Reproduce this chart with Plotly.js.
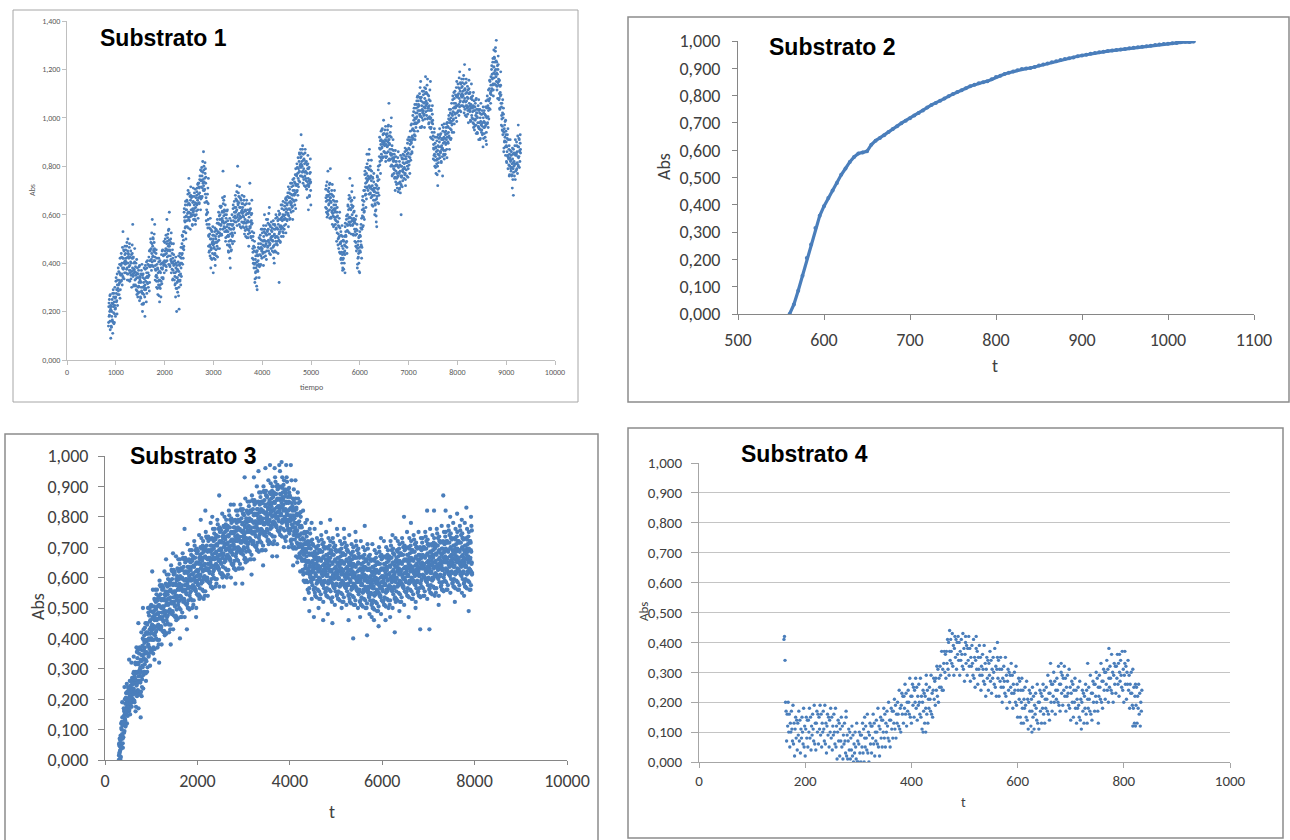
<!DOCTYPE html>
<html><head><meta charset="utf-8">
<script src="https://cdn.plot.ly/plotly-3.0.1.min.js"></script>
<style>html,body{margin:0;padding:0;background:#fff}#chart{width:1290px;height:840px}</style>
</head><body><div id="chart"></div>
<script>
// ---------- Substrato 1 (tiempo, Abs) : readings per 50-unit window ----------
const s1_t = [850,900,950,1000,1050,1100,1150,1200,1250,1300,1350,1400,1450,1500,1550,1600,1650,1700,1750,1800,1850,1900,1950,2000,2050,2100,2150,2200,2250,2300,2350,2400,2450,2500,2550,2600,2650,2700,2750,2800,2850,2900,2950,3000,3050,3100,3150,3200,3250,3300,3350,3400,3450,3500,3550,3600,3650,3700,3750,3800,3850,3900,3950,4000,4050,4100,4150,4200,4250,4300,4350,4400,4450,4500,4550,4600,4650,4700,4750,4800,4850,4900,4950,
5300,5350,5400,5450,5500,5550,5600,5650,5700,5750,5800,5850,5900,5950,6000,6050,6100,6150,6200,6250,6300,6350,6400,6450,6500,6550,6600,6650,6700,6750,6800,6850,6900,6950,7000,7050,7100,7150,7200,7250,7300,7350,7400,7450,7500,7550,7600,7650,7700,7750,7800,7850,7900,7950,8000,8050,8100,8150,8200,8250,8300,8350,8400,8450,8500,8550,8600,8650,8700,8750,8800,8850,8900,8950,9000,9050,9100,9150,9200,9250];
const s1_dt = [0,6,12,18,25,31,37,43,47]; // sample offsets inside each window (set A)
const s1_abs = [
[.14,.22,.18,.25,.20,.16,.27,.21,.09],[.22,.14,.20,.18,.25,.16,.11,.23,.29],[.22,.26,.15,.24,.19,.30,.21,.18],[.26,.34,.24,.29,.19,.31,.33,.27],[.38,.31,.33,.27,.36,.32,.42,.29],
[.35,.39,.44,.33,.40,.31,.38,.42,.53],[.34,.42,.38,.45,.40,.36,.47,.41],[.44,.36,.42,.40,.47,.38,.33,.45,.50],[.40,.44,.33,.42,.37,.48,.39,.36],[.37,.45,.35,.40,.30,.42,.44,.38,.56],
[.42,.35,.37,.31,.40,.36,.46,.33],[.31,.35,.40,.29,.36,.27,.34,.38],[.26,.34,.30,.37,.32,.28,.39,.33],[.34,.26,.32,.30,.37,.28,.23,.35,.20],[.30,.34,.23,.32,.27,.38,.29,.26,.18],
[.31,.39,.29,.34,.24,.36,.38,.32],[.41,.34,.36,.30,.39,.35,.45,.32],[.41,.45,.50,.39,.46,.37,.44,.48,.58],[.39,.47,.43,.50,.45,.41,.52,.46,.56],[.41,.33,.39,.37,.44,.35,.30,.42],
[.34,.38,.27,.36,.31,.42,.33,.30,.24],[.33,.41,.31,.36,.26,.38,.40,.34],[.45,.38,.40,.34,.43,.39,.49,.36],[.41,.45,.50,.39,.46,.37,.44,.48,.58],[.41,.49,.45,.52,.47,.43,.54,.48,.61],
[.47,.39,.45,.43,.50,.41,.36,.48],[.40,.44,.33,.42,.37,.48,.39,.36],[.33,.41,.31,.36,.26,.38,.40,.34,.20],[.39,.32,.34,.28,.37,.33,.43,.30,.21],[.35,.39,.44,.33,.40,.31,.38,.42],
[.40,.48,.44,.51,.46,.42,.53,.47],[.61,.53,.59,.57,.64,.55,.50,.62],[.62,.66,.55,.64,.59,.70,.61,.58,.75],[.61,.69,.59,.64,.54,.66,.68,.62],[.67,.60,.62,.56,.65,.61,.71,.58],
[.60,.64,.69,.58,.65,.56,.63,.67],[.60,.68,.64,.71,.66,.62,.73,.67],[.73,.65,.71,.69,.76,.67,.62,.74],[.74,.78,.67,.76,.71,.82,.73,.70,.86],[.72,.80,.70,.75,.65,.77,.79,.73],
[.67,.60,.62,.56,.65,.61,.71,.58,.75],[.47,.51,.56,.45,.52,.43,.50,.54,.38],[.42,.50,.46,.53,.48,.44,.55,.49,.36],[.50,.42,.48,.46,.53,.44,.39,.51],[.50,.54,.43,.52,.47,.58,.49,.46],
[.53,.61,.51,.56,.46,.58,.60,.54],[.63,.56,.58,.52,.61,.57,.67,.54,.78],[.57,.61,.66,.55,.62,.53,.60,.64],[.49,.57,.53,.60,.55,.51,.62,.56],[.53,.45,.51,.49,.56,.47,.42,.54,.38],
[.52,.56,.45,.54,.49,.60,.51,.48],[.56,.64,.54,.59,.49,.61,.63,.57],[.68,.61,.63,.57,.66,.62,.72,.59,.80],[.60,.64,.69,.58,.65,.56,.63,.67],[.55,.63,.59,.66,.61,.57,.68,.62],
[.63,.55,.61,.59,.66,.57,.52,.64],[.58,.62,.51,.60,.55,.66,.57,.54],[.54,.62,.52,.57,.47,.59,.61,.55,.73],[.62,.55,.57,.51,.60,.56,.66,.53],[.42,.46,.51,.40,.47,.38,.45,.49],
[.32,.40,.36,.43,.38,.34,.45,.39,.29],[.45,.37,.43,.41,.48,.39,.34,.46],[.46,.50,.39,.48,.43,.54,.45,.42],[.46,.54,.44,.49,.39,.51,.53,.47,.60],[.54,.47,.49,.43,.52,.48,.58,.45],
[.49,.53,.58,.47,.54,.45,.52,.56,.63],[.44,.52,.48,.55,.50,.46,.57,.51],[.53,.45,.51,.49,.56,.47,.42,.54,.40],[.52,.56,.45,.54,.49,.60,.51,.48],[.51,.59,.49,.54,.44,.56,.58,.52,.32],
[.60,.53,.55,.49,.58,.54,.64,.51],[.55,.59,.64,.53,.60,.51,.58,.62],[.54,.62,.58,.65,.60,.56,.67,.61],[.66,.58,.64,.62,.69,.60,.55,.67],[.65,.69,.58,.67,.62,.73,.64,.61],
[.65,.73,.63,.68,.58,.70,.72,.66],[.75,.68,.70,.64,.73,.69,.79,.66],[.72,.76,.81,.70,.77,.68,.75,.79],[.74,.82,.78,.85,.80,.76,.87,.81,.93],[.84,.76,.82,.80,.87,.78,.73,.85],
[.79,.83,.72,.81,.76,.87,.78,.75],[.74,.82,.72,.77,.67,.79,.81,.75,.62],[.79,.72,.74,.68,.77,.73,.83,.70,.64],
[.63,.67,.72,.61,.68,.59,.66,.70,.78],[.60,.68,.64,.71,.66,.62,.73,.67,.79],[.67,.59,.65,.63,.70,.61,.56,.68],[.62,.66,.55,.64,.59,.70,.61,.58],[.56,.64,.54,.59,.49,.61,.63,.57],
[.57,.50,.52,.46,.55,.51,.61,.48],[.44,.48,.53,.42,.49,.40,.47,.51,.37],[.38,.46,.42,.49,.44,.40,.51,.45,.36],[.55,.47,.53,.51,.58,.49,.44,.56],[.60,.64,.53,.62,.57,.68,.59,.56,.75],
[.59,.67,.57,.62,.52,.64,.66,.60,.72],[.63,.56,.58,.52,.61,.57,.67,.54],[.49,.53,.58,.47,.54,.45,.52,.56],[.38,.46,.42,.49,.44,.40,.51,.45,.36],[.53,.45,.51,.49,.56,.47,.42,.54],
[.62,.66,.55,.64,.59,.70,.61,.58],[.70,.78,.68,.73,.63,.75,.77,.71,.85],[.81,.74,.76,.70,.79,.75,.85,.72,.87],[.71,.75,.80,.69,.76,.67,.74,.78],[.64,.72,.68,.75,.70,.66,.77,.71],
[.68,.60,.66,.64,.71,.62,.57,.69,.55],[.72,.76,.65,.74,.69,.80,.71,.68],[.84,.92,.82,.87,.77,.89,.91,.85],[.95,.88,.90,.84,.93,.89,.99,.86],[.86,.90,.95,.84,.91,.82,.89,.93],
[.84,.92,.88,.95,.90,.86,.97,.91,1.06],[.91,.83,.89,.87,.94,.85,.80,.92,1.00],[.83,.87,.76,.85,.80,.91,.82,.79],[.77,.85,.75,.80,.70,.82,.84,.78],[.82,.75,.77,.71,.80,.76,.86,.73],
[.73,.77,.82,.71,.78,.69,.76,.80,.60],[.72,.80,.76,.83,.78,.74,.85,.79],[.83,.75,.81,.79,.86,.77,.72,.84],[.83,.87,.76,.85,.80,.91,.82,.79],[.84,.92,.82,.87,.77,.89,.91,.85],
[.97,.90,.92,.86,.95,.91,1.01,.88],[.95,.99,1.04,.93,1.00,.91,.98,1.02],[.96,1.04,1.00,1.07,1.02,.98,1.09,1.03],[1.07,.99,1.05,1.03,1.10,1.01,.96,1.08,1.15],[1.03,1.07,.96,1.05,1.00,1.11,1.02,.99],
[1.03,1.11,1.01,1.06,.96,1.08,1.10,1.04,1.17],[1.12,1.05,1.07,1.01,1.10,1.06,1.16,1.03],[1.00,1.04,1.09,.98,1.05,.96,1.03,1.07,1.15],[.92,1.00,.96,1.03,.98,.94,1.05,.99],[.91,.83,.89,.87,.94,.85,.80,.92],
[.84,.88,.77,.86,.81,.92,.83,.80,.72],[.85,.93,.83,.88,.78,.90,.92,.86],[.93,.86,.88,.82,.91,.87,.97,.84,.76],[.87,.91,.96,.85,.92,.83,.90,.94],[.85,.93,.89,.96,.91,.87,.98,.92],
[.98,.90,.96,.94,1.01,.92,.87,.99],[.98,1.02,.91,1.00,.95,1.06,.97,.94],[1.01,1.09,.99,1.04,.94,1.06,1.08,1.02],[1.11,1.04,1.06,1.00,1.09,1.05,1.15,1.02],[1.05,1.09,1.14,1.03,1.10,1.01,1.08,1.12,1.19],
[1.03,1.11,1.07,1.14,1.09,1.05,1.16,1.10],[1.13,1.05,1.11,1.09,1.16,1.07,1.02,1.14,1.22],[1.08,1.12,1.01,1.10,1.05,1.16,1.07,1.04],[1.05,1.13,1.03,1.08,.98,1.10,1.12,1.06,1.20],[1.10,1.03,1.05,.99,1.08,1.04,1.14,1.01],
[1.00,1.04,1.09,.98,1.05,.96,1.03,1.07],[.95,1.03,.99,1.06,1.01,.97,1.08,1.02],[1.02,.94,1.00,.98,1.05,.96,.91,1.03],[.98,1.02,.91,1.00,.95,1.06,.97,.94],[.95,1.03,.93,.98,.88,1.00,1.02,.96],
[1.03,.96,.98,.92,1.01,.97,1.07,.94,.89],[1.00,1.04,1.09,.98,1.05,.96,1.03,1.07],[1.04,1.12,1.08,1.15,1.10,1.06,1.17,1.11],[1.20,1.12,1.18,1.16,1.23,1.14,1.09,1.21,1.28],[1.21,1.25,1.14,1.23,1.18,1.29,1.20,1.17,1.32],
[1.15,1.23,1.13,1.18,1.08,1.20,1.22,1.16],[1.15,1.08,1.10,1.04,1.13,1.09,1.19,1.06],[.97,1.01,1.06,.95,1.02,.93,1.00,1.04],[.86,.94,.90,.97,.92,.88,.99,.93],[.90,.82,.88,.86,.93,.84,.79,.91],
[.83,.87,.76,.85,.80,.91,.82,.79],[.78,.86,.76,.81,.71,.83,.85,.79,.68],[.87,.80,.82,.76,.85,.81,.91,.78],[.81,.85,.90,.79,.86,.77,.84,.88,.97],[.80,.88,.84,.91,.86,.82,.93,.87]
];
const s1_dt_b = [3,11,20,28,36,44]; // sample offsets inside each window (set B)
const s1_abs_b = [
[.155,.235,.185,.265,.125,.225],[.205,.135,.235,.165,.275,.155],[.195,.275,.155,.225,.255,.215],[.325,.275,.245,.355,.225,.295],[.285,.365,.315,.395,.255,.355],
[.395,.325,.425,.355,.465,.345],[.375,.455,.335,.405,.435,.395],[.455,.405,.375,.485,.355,.425],[.355,.435,.385,.465,.325,.425],[.405,.335,.435,.365,.475,.355],
[.345,.425,.305,.375,.405,.365],[.385,.335,.305,.415,.285,.355],[.275,.355,.305,.385,.245,.345],[.325,.255,.355,.285,.395,.275],[.275,.355,.235,.305,.335,.295],
[.375,.325,.295,.405,.275,.345],[.315,.395,.345,.425,.285,.385],[.455,.385,.485,.415,.525,.405],[.425,.505,.385,.455,.485,.445],[.425,.375,.345,.455,.325,.395],
[.295,.375,.325,.405,.265,.365],[.365,.295,.395,.325,.435,.315],[.375,.455,.335,.405,.435,.395],[.485,.435,.405,.515,.385,.455],[.425,.505,.455,.535,.395,.495],
[.455,.385,.485,.415,.525,.405],[.375,.455,.335,.405,.435,.395],[.395,.345,.315,.425,.295,.365],[.295,.375,.325,.405,.265,.365],[.395,.325,.425,.355,.465,.345],
[.435,.515,.395,.465,.495,.455],[.625,.575,.545,.655,.525,.595],[.575,.655,.605,.685,.545,.645],[.645,.575,.675,.605,.715,.595],[.595,.675,.555,.625,.655,.615],
[.675,.625,.595,.705,.575,.645],[.615,.695,.645,.725,.585,.685],[.715,.645,.745,.675,.785,.665],[.715,.795,.675,.745,.775,.735],[.785,.735,.705,.815,.685,.755],
[.575,.655,.605,.685,.545,.645],[.515,.445,.545,.475,.585,.465],[.455,.535,.415,.485,.515,.475],[.515,.465,.435,.545,.415,.485],[.455,.535,.485,.565,.425,.525],
[.565,.495,.595,.525,.635,.515],[.555,.635,.515,.585,.615,.575],[.645,.595,.565,.675,.545,.615],[.505,.585,.535,.615,.475,.575],[.515,.445,.545,.475,.585,.465],
[.495,.575,.455,.525,.555,.515],[.625,.575,.545,.655,.525,.595],[.585,.665,.615,.695,.555,.655],[.645,.575,.675,.605,.715,.595],[.585,.665,.545,.615,.645,.605],
[.645,.595,.565,.675,.545,.615],[.535,.615,.565,.645,.505,.605],[.575,.505,.605,.535,.645,.525],[.545,.625,.505,.575,.605,.565],[.495,.445,.415,.525,.395,.465],
[.335,.415,.365,.445,.305,.405],[.435,.365,.465,.395,.505,.385],[.435,.515,.395,.465,.495,.455],[.525,.475,.445,.555,.425,.495],[.445,.525,.475,.555,.415,.515],
[.535,.465,.565,.495,.605,.485],[.475,.555,.435,.505,.535,.495],[.545,.495,.465,.575,.445,.515],[.475,.555,.505,.585,.445,.545],[.545,.475,.575,.505,.615,.495],
[.525,.605,.485,.555,.585,.545],[.625,.575,.545,.655,.525,.595],[.555,.635,.585,.665,.525,.625],[.645,.575,.675,.605,.715,.595],[.625,.705,.585,.655,.685,.645],
[.715,.665,.635,.745,.615,.685],[.655,.735,.685,.765,.625,.725],[.765,.695,.795,.725,.835,.715],[.775,.855,.735,.805,.835,.795],[.855,.805,.775,.885,.755,.825],
[.745,.825,.775,.855,.715,.815],[.775,.705,.805,.735,.845,.725],[.715,.795,.675,.745,.775,.735],
[.705,.655,.625,.735,.605,.675],[.615,.695,.645,.725,.585,.685],[.655,.585,.685,.615,.725,.605],[.595,.675,.555,.625,.655,.615],[.625,.575,.545,.655,.525,.595],
[.475,.555,.505,.585,.445,.545],[.485,.415,.515,.445,.555,.435],[.415,.495,.375,.445,.475,.435],[.565,.515,.485,.595,.465,.535],[.555,.635,.585,.665,.525,.625],
[.625,.555,.655,.585,.695,.575],[.555,.635,.515,.585,.615,.575],[.565,.515,.485,.595,.465,.535],[.395,.475,.425,.505,.365,.465],[.515,.445,.545,.475,.585,.465],
[.595,.675,.555,.625,.655,.615],[.765,.715,.685,.795,.665,.735],[.715,.795,.745,.825,.685,.785],[.755,.685,.785,.715,.825,.705],[.675,.755,.635,.705,.735,.695],
[.695,.645,.615,.725,.595,.665],[.675,.755,.705,.785,.645,.745],[.875,.805,.905,.835,.945,.825],[.875,.955,.835,.905,.935,.895],[.935,.885,.855,.965,.835,.905],
[.855,.935,.885,.965,.825,.925],[.895,.825,.925,.855,.965,.845],[.805,.885,.765,.835,.865,.825],[.835,.785,.755,.865,.735,.805],[.725,.805,.755,.835,.695,.795],
[.775,.705,.805,.735,.845,.725],[.755,.835,.715,.785,.815,.775],[.845,.795,.765,.875,.745,.815],[.785,.865,.815,.895,.755,.855],[.875,.805,.905,.835,.945,.825],
[.895,.975,.855,.925,.955,.915],[1.025,.975,.945,1.055,.925,.995],[.975,1.055,1.005,1.085,.945,1.045],[1.055,.985,1.085,1.015,1.125,1.005],[1.005,1.085,.965,1.035,1.065,1.025],
[1.095,1.045,1.015,1.125,.995,1.065],[1.025,1.105,1.055,1.135,.995,1.095],[1.045,.975,1.075,1.005,1.115,.995],[.955,1.035,.915,.985,1.015,.975],[.925,.875,.845,.955,.825,.895],
[.795,.875,.825,.905,.765,.865],[.885,.815,.915,.845,.955,.835],[.855,.935,.815,.885,.915,.875],[.945,.895,.865,.975,.845,.915],[.865,.945,.895,.975,.835,.935],
[.965,.895,.995,.925,1.035,.915],[.955,1.035,.915,.985,1.015,.975],[1.075,1.025,.995,1.105,.975,1.045],[1.015,1.095,1.045,1.125,.985,1.085],[1.095,1.025,1.125,1.055,1.165,1.045],
[1.065,1.145,1.025,1.095,1.125,1.085],[1.145,1.095,1.065,1.175,1.045,1.115],[1.035,1.115,1.065,1.145,1.005,1.105],[1.085,1.015,1.115,1.045,1.155,1.035],[1.025,1.105,.985,1.055,1.085,1.045],
[1.075,1.025,.995,1.105,.975,1.045],[.965,1.045,.995,1.075,.935,1.035],[1.005,.935,1.035,.965,1.075,.955],[.955,1.035,.915,.985,1.015,.975],[1.015,.965,.935,1.045,.915,.985],
[.935,1.015,.965,1.045,.905,1.005],[1.045,.975,1.075,1.005,1.115,.995],[1.075,1.155,1.035,1.105,1.135,1.095],[1.215,1.165,1.135,1.245,1.115,1.185],[1.165,1.245,1.195,1.275,1.135,1.235],
[1.185,1.115,1.215,1.145,1.255,1.135],[1.075,1.155,1.035,1.105,1.135,1.095],[1.045,.995,.965,1.075,.945,1.015],[.875,.955,.905,.985,.845,.945],[.885,.815,.915,.845,.955,.835],
[.805,.885,.765,.835,.865,.825],[.845,.795,.765,.875,.745,.815],[.775,.855,.805,.885,.745,.845],[.855,.785,.885,.815,.925,.805],[.835,.915,.795,.865,.895,.855]
];

// ---------- Substrato 2 (t, Abs) ----------
const s2_t = [560,565,570,575,580,585,590,595,600,605,610,615,620,625,630,635,640,645,650,655,660,665,670,675,680,685,690,695,700,705,710,715,720,725,730,735,740,745,750,755,760,765,770,775,780,785,790,795,800,805,810,815,820,825,830,835,840,845,850,855,860,865,870,875,880,885,890,895,900,905,910,915,920,925,930,935,940,945,950,955,960,965,970,975,980,985,990,995,1000,1005,1010,1015,1020,1025,1030];
const s2_abs = [.000,.035,.085,.140,.205,.255,.315,.360,.395,.425,.452,.480,.510,.533,.557,.575,.588,.592,.596,.620,.635,.645,.655,.667,.678,.688,.699,.708,.717,.727,.736,.745,.756,.766,.773,.781,.789,.798,.806,.813,.820,.827,.834,.840,.845,.849,.853,.860,.868,.873,.879,.884,.888,.893,.897,.899,.901,.905,.910,.914,.918,.922,.926,.930,.934,.937,.940,.944,.947,.950,.953,.956,.959,.961,.963,.965,.967,.969,.971,.973,.975,.977,.979,.981,.983,.985,.987,.989,.990,.992,.993,.995,.997,.996,.998];

// ---------- Substrato 3 (t, Abs) : readings per 50-unit window ----------
const s3_t = [300,350,400,450,500,550,600,650,700,750,800,850,900,950,1000,1050,1100,1150,1200,1250,1300,1350,1400,1450,1500,1550,1600,1650,1700,1750,1800,1850,1900,1950,2000,2050,2100,2150,2200,2250,2300,2350,2400,2450,2500,2550,2600,2650,2700,2750,2800,2850,2900,2950,3000,3050,3100,3150,3200,3250,3300,3350,3400,3450,3500,3550,3600,3650,3700,3750,3800,3850,3900,3950,4000,4050,4100,4150,4200,4250,4300,4350,4400,4450,4500,4550,4600,4650,4700,4750,4800,4850,4900,4950,5000,5050,5100,5150,5200,5250,5300,5350,5400,5450,5500,5550,5600,5650,5700,5750,5800,5850,5900,5950,6000,6050,6100,6150,6200,6250,6300,6350,6400,6450,6500,6550,6600,6650,6700,6750,6800,6850,6900,6950,7000,7050,7100,7150,7200,7250,7300,7350,7400,7450,7500,7550,7600,7650,7700,7750,7800,7850,7900];
const s3_dt = [0,6,12,18,25,31,37,43,22];
const s3_abs = [
[.00,.05,.02,.07,.03,.00,.08,.01],[.12,.05,.10,.08,.14,.07,.04,.12,.19],[.14,.17,.09,.16,.12,.20,.13,.11,.24],[.17,.22,.15,.19,.12,.20,.22,.17,.25],[.24,.18,.20,.16,.22,.19,.26,.15,.33],
[.18,.24,.21,.26,.22,.19,.27,.20,.32],[.27,.20,.25,.23,.29,.22,.19,.27,.34],[.26,.32,.16,.29,.22,.37,.25,.21],[.26,.36,.23,.29,.17,.32,.35,.26,.45],[.37,.26,.30,.22,.33,.29,.42,.21,.14],
[.24,.36,.31,.40,.33,.28,.43,.29,.50],[.41,.29,.37,.35,.45,.33,.26,.42],[.39,.45,.29,.42,.35,.50,.38,.34],[.40,.50,.37,.43,.31,.46,.49,.40],[.51,.40,.44,.36,.47,.43,.56,.35,.62],
[.37,.49,.44,.53,.46,.41,.56,.42,.33],[.52,.40,.48,.46,.56,.44,.37,.53],[.48,.54,.38,.51,.44,.59,.47,.43,.32],[.47,.57,.44,.50,.38,.53,.56,.47],[.57,.46,.50,.42,.53,.49,.62,.41],
[.42,.54,.49,.58,.51,.46,.61,.47,.66],[.57,.45,.53,.51,.61,.49,.42,.58],[.53,.59,.43,.56,.49,.64,.52,.48,.38],[.52,.62,.49,.55,.43,.58,.61,.52,.68],[.62,.51,.55,.47,.58,.54,.67,.46],
[.47,.59,.54,.63,.56,.51,.66,.52],[.62,.50,.58,.56,.66,.54,.47,.63,.40],[.57,.63,.47,.60,.53,.68,.56,.52],[.56,.66,.53,.59,.47,.62,.65,.56,.76],[.66,.55,.59,.51,.62,.58,.71,.50,.43],
[.50,.62,.57,.66,.59,.54,.69,.55],[.65,.53,.61,.59,.69,.57,.50,.66],[.61,.67,.51,.64,.57,.72,.60,.56],[.59,.69,.56,.62,.50,.65,.68,.59,.47],[.69,.58,.62,.54,.65,.61,.74,.53],
[.54,.66,.61,.70,.63,.58,.73,.59,.79],[.68,.56,.64,.62,.72,.60,.53,.69],[.64,.70,.54,.67,.60,.75,.63,.59,.82],[.63,.73,.60,.66,.54,.69,.72,.63],[.73,.62,.66,.58,.69,.65,.78,.57],
[.57,.69,.64,.73,.66,.61,.76,.62,.80],[.72,.60,.68,.66,.76,.64,.57,.73],[.68,.74,.58,.71,.64,.79,.67,.63],[.66,.76,.63,.69,.57,.72,.75,.66,.87],[.76,.65,.69,.61,.72,.68,.81,.60],
[.61,.73,.68,.77,.70,.65,.80,.66,.57],[.75,.63,.71,.69,.79,.67,.60,.76],[.71,.77,.61,.74,.67,.82,.70,.66],[.69,.79,.66,.72,.60,.75,.78,.69,.84],[.79,.68,.72,.64,.75,.71,.84,.63],
[.63,.75,.70,.79,.72,.67,.82,.68,.58],[.78,.66,.74,.72,.82,.70,.63,.79],[.73,.79,.63,.76,.69,.84,.72,.68],[.72,.82,.69,.75,.63,.78,.81,.72,.58],[.81,.70,.74,.66,.77,.73,.86,.65,.93],
[.66,.78,.73,.82,.75,.70,.85,.71],[.81,.69,.77,.75,.85,.73,.66,.82],[.76,.82,.66,.79,.72,.87,.75,.71,.61],[.75,.85,.72,.78,.66,.81,.84,.75,.93],[.85,.74,.78,.70,.81,.77,.90,.69],
[.69,.81,.76,.85,.78,.73,.88,.74,.95],[.84,.72,.80,.78,.88,.76,.69,.85],[.79,.85,.69,.82,.75,.90,.78,.74,.64],[.78,.88,.75,.81,.69,.84,.87,.78,.96],[.87,.76,.80,.72,.83,.79,.92,.71],
[.72,.84,.79,.88,.81,.76,.91,.77,.97],[.86,.74,.82,.80,.90,.78,.71,.87,.67],[.82,.88,.72,.85,.78,.93,.81,.77,.96],[.80,.90,.77,.83,.71,.86,.89,.80,.67],[.90,.79,.83,.75,.86,.82,.95,.74,.97],
[.74,.86,.81,.90,.83,.78,.93,.79,.98],[.88,.76,.84,.82,.92,.80,.73,.89,.70],[.82,.88,.72,.85,.78,.93,.81,.77,.97],[.79,.89,.76,.82,.70,.85,.88,.79],[.87,.76,.80,.72,.83,.79,.92,.71,.97],
[.70,.82,.77,.86,.79,.74,.89,.75,.64],[.82,.70,.78,.76,.86,.74,.67,.83,.92],[.75,.81,.65,.78,.71,.86,.74,.70,.88],[.71,.81,.68,.74,.62,.77,.80,.71,.85],[.77,.66,.70,.62,.73,.69,.82,.61],
[.59,.71,.66,.75,.68,.63,.78,.64,.53],[.71,.59,.67,.65,.75,.63,.56,.72,.79],[.65,.71,.55,.68,.61,.76,.64,.60,.49],[.62,.72,.59,.65,.53,.68,.71,.62,.78],[.71,.60,.64,.56,.67,.63,.76,.55,.47],
[.54,.66,.61,.70,.63,.58,.73,.59],[.68,.56,.64,.62,.72,.60,.53,.69,.50],[.63,.69,.53,.66,.59,.74,.62,.58,.78],[.61,.71,.58,.64,.52,.67,.70,.61,.46],[.70,.59,.63,.55,.66,.62,.75,.54],
[.54,.66,.61,.70,.63,.58,.73,.59,.48],[.68,.56,.64,.62,.72,.60,.53,.69,.79],[.62,.68,.52,.65,.58,.73,.61,.57,.45],[.60,.70,.57,.63,.51,.66,.69,.60],[.69,.58,.62,.54,.65,.61,.74,.53,.76],
[.53,.65,.60,.69,.62,.57,.72,.58],[.67,.55,.63,.61,.71,.59,.52,.68,.50],[.62,.68,.52,.65,.58,.73,.61,.57,.76],[.60,.70,.57,.63,.51,.66,.69,.60],[.69,.58,.62,.54,.65,.61,.74,.53,.46],
[.52,.64,.59,.68,.61,.56,.71,.57],[.66,.54,.62,.60,.70,.58,.51,.67,.40],[.61,.67,.51,.64,.57,.72,.60,.56,.75],[.59,.69,.56,.62,.50,.65,.68,.59],[.67,.56,.60,.52,.63,.59,.72,.51,.47],
[.51,.63,.58,.67,.60,.55,.70,.56],[.65,.53,.61,.59,.69,.57,.50,.66,.77],[.60,.66,.50,.63,.56,.71,.59,.55,.41],[.57,.67,.54,.60,.48,.63,.66,.57],[.66,.55,.59,.51,.62,.58,.71,.50,.47],
[.50,.62,.57,.66,.59,.54,.69,.55,.46],[.64,.52,.60,.58,.68,.56,.49,.65],[.59,.65,.49,.62,.55,.70,.58,.54,.44],[.57,.67,.54,.60,.48,.63,.66,.57,.73],[.67,.56,.60,.52,.63,.59,.72,.51],
[.51,.63,.58,.67,.60,.55,.70,.56,.46],[.65,.53,.61,.59,.69,.57,.50,.66],[.61,.67,.51,.64,.57,.72,.60,.56,.47],[.59,.69,.56,.62,.50,.65,.68,.59,.74],[.68,.57,.61,.53,.64,.60,.73,.52,.42],
[.53,.65,.60,.69,.62,.57,.72,.58],[.67,.55,.63,.61,.71,.59,.52,.68,.49],[.62,.68,.52,.65,.58,.73,.61,.57],[.60,.70,.57,.63,.51,.66,.69,.60,.80],[.70,.59,.63,.55,.66,.62,.75,.54],
[.54,.66,.61,.70,.63,.58,.73,.59,.47],[.68,.56,.64,.62,.72,.60,.53,.69,.78],[.63,.69,.53,.66,.59,.74,.62,.58],[.61,.71,.58,.64,.52,.67,.70,.61,.50],[.70,.59,.63,.55,.66,.62,.75,.54],
[.54,.66,.61,.70,.63,.58,.73,.59,.43],[.69,.57,.65,.63,.73,.61,.54,.70],[.64,.70,.54,.67,.60,.75,.63,.59],[.62,.72,.59,.65,.53,.68,.71,.62,.82],[.71,.60,.64,.56,.67,.63,.76,.55,.43],
[.55,.67,.62,.71,.64,.59,.74,.60],[.69,.57,.65,.63,.73,.61,.54,.70,.82],[.65,.71,.55,.68,.61,.76,.64,.60],[.63,.73,.60,.66,.54,.69,.72,.63,.51],[.72,.61,.65,.57,.68,.64,.77,.56],
[.56,.68,.63,.72,.65,.60,.75,.61,.87],[.71,.59,.67,.65,.75,.63,.56,.72,.82],[.66,.72,.56,.69,.62,.77,.65,.61],[.64,.74,.61,.67,.55,.70,.73,.64,.80],[.73,.62,.66,.58,.69,.65,.78,.57],
[.57,.69,.64,.73,.66,.61,.76,.62,.52],[.71,.59,.67,.65,.75,.63,.56,.72,.81],[.66,.72,.56,.69,.62,.77,.65,.61],[.64,.74,.61,.67,.55,.70,.73,.64,.79],[.73,.62,.66,.58,.69,.65,.78,.57,.54],
[.57,.69,.64,.73,.66,.61,.76,.62,.83],[.71,.59,.67,.65,.75,.63,.56,.72,.49],[.66,.72,.56,.69,.62,.77,.65,.61,.80]
];
const s3_dt_b = [3,9,15,21,28,34,40,46];
const s3_abs_b = [
[.015,.055,.025,.045,.005,.065,.035,.045],[.105,.075,.125,.085,.115,.055,.115,.075],[.125,.145,.165,.095,.155,.135,.185,.115],[.205,.165,.155,.195,.175,.225,.145,.185],[.185,.235,.175,.205,.165,.215,.225,.195],
[.185,.245,.205,.235,.175,.255,.225,.235],[.255,.215,.285,.235,.265,.195,.275,.225],[.225,.265,.315,.175,.285,.245,.355,.215],[.335,.255,.225,.315,.275,.365,.215,.295],[.285,.365,.255,.305,.225,.325,.345,.275],
[.265,.375,.305,.345,.235,.395,.335,.365],[.385,.315,.435,.355,.395,.285,.415,.325],[.355,.395,.445,.305,.415,.375,.485,.345],[.475,.395,.365,.455,.415,.505,.355,.435],[.425,.505,.395,.445,.365,.465,.485,.415],
[.395,.505,.435,.475,.365,.525,.465,.495],[.495,.425,.545,.465,.505,.395,.525,.435],[.445,.485,.535,.395,.505,.465,.575,.435],[.545,.465,.435,.525,.485,.575,.425,.505],[.485,.565,.455,.505,.425,.525,.545,.475],
[.445,.555,.485,.525,.415,.575,.515,.545],[.545,.475,.595,.515,.555,.445,.575,.485],[.495,.535,.585,.445,.555,.515,.625,.485],[.595,.515,.485,.575,.535,.625,.475,.555],[.535,.615,.505,.555,.475,.575,.595,.525],
[.495,.605,.535,.575,.465,.625,.565,.595],[.595,.525,.645,.565,.605,.495,.625,.535],[.535,.575,.625,.485,.595,.555,.665,.525],[.635,.555,.525,.615,.575,.665,.515,.595],[.575,.655,.545,.595,.515,.615,.635,.565],
[.525,.635,.565,.605,.495,.655,.595,.625],[.625,.555,.675,.595,.635,.525,.655,.565],[.575,.615,.665,.525,.635,.595,.705,.565],[.665,.585,.555,.645,.605,.695,.545,.625],[.605,.685,.575,.625,.545,.645,.665,.595],
[.565,.675,.605,.645,.535,.695,.635,.665],[.655,.585,.705,.625,.665,.555,.685,.595],[.605,.645,.695,.555,.665,.625,.735,.595],[.705,.625,.595,.685,.645,.735,.585,.665],[.645,.725,.615,.665,.585,.685,.705,.635],
[.595,.705,.635,.675,.565,.725,.665,.695],[.695,.625,.745,.665,.705,.595,.725,.635],[.645,.685,.735,.595,.705,.665,.775,.635],[.735,.655,.625,.715,.675,.765,.615,.695],[.675,.755,.645,.695,.615,.715,.735,.665],
[.635,.745,.675,.715,.605,.765,.705,.735],[.725,.655,.775,.695,.735,.625,.755,.665],[.675,.715,.765,.625,.735,.695,.805,.665],[.765,.685,.655,.745,.705,.795,.645,.725],[.705,.785,.675,.725,.645,.745,.765,.695],
[.655,.765,.695,.735,.625,.785,.725,.755],[.755,.685,.805,.725,.765,.655,.785,.695],[.695,.735,.785,.645,.755,.715,.825,.685],[.795,.715,.685,.775,.735,.825,.675,.755],[.725,.805,.695,.745,.665,.765,.785,.715],
[.685,.795,.725,.765,.655,.815,.755,.785],[.785,.715,.835,.755,.795,.685,.815,.725],[.725,.765,.815,.675,.785,.745,.855,.715],[.825,.745,.715,.805,.765,.855,.705,.785],[.765,.845,.735,.785,.705,.805,.825,.755],
[.715,.825,.755,.795,.685,.845,.785,.815],[.815,.745,.865,.785,.825,.715,.845,.755],[.755,.795,.845,.705,.815,.775,.885,.745],[.855,.775,.745,.835,.795,.885,.735,.815],[.785,.865,.755,.805,.725,.825,.845,.775],
[.745,.855,.785,.825,.715,.875,.815,.845],[.835,.765,.885,.805,.845,.735,.865,.775],[.785,.825,.875,.735,.845,.805,.915,.775],[.875,.795,.765,.855,.815,.905,.755,.835],[.815,.895,.785,.835,.755,.855,.875,.805],
[.765,.875,.805,.845,.735,.895,.835,.865],[.855,.785,.905,.825,.865,.755,.885,.795],[.785,.825,.875,.735,.845,.805,.915,.775],[.865,.785,.755,.845,.805,.895,.745,.825],[.785,.865,.755,.805,.725,.825,.845,.775],
[.725,.835,.765,.805,.695,.855,.795,.825],[.795,.725,.845,.765,.805,.695,.825,.735],[.715,.755,.805,.665,.775,.735,.845,.705],[.785,.705,.675,.765,.725,.815,.665,.745],[.685,.765,.655,.705,.625,.725,.745,.675],
[.615,.725,.655,.695,.585,.745,.685,.715],[.685,.615,.735,.655,.695,.585,.715,.625],[.615,.655,.705,.565,.675,.635,.745,.605],[.695,.615,.585,.675,.635,.725,.575,.655],[.625,.705,.595,.645,.565,.665,.685,.615],
[.565,.675,.605,.645,.535,.695,.635,.665],[.655,.585,.705,.625,.665,.555,.685,.595],[.595,.635,.685,.545,.655,.615,.725,.585],[.685,.605,.575,.665,.625,.715,.565,.645],[.615,.695,.585,.635,.555,.655,.675,.605],
[.565,.675,.605,.645,.535,.695,.635,.665],[.655,.585,.705,.625,.665,.555,.685,.595],[.585,.625,.675,.535,.645,.605,.715,.575],[.675,.595,.565,.655,.615,.705,.555,.635],[.605,.685,.575,.625,.545,.645,.665,.595],
[.555,.665,.595,.635,.525,.685,.625,.655],[.645,.575,.695,.615,.655,.545,.675,.585],[.585,.625,.675,.535,.645,.605,.715,.575],[.675,.595,.565,.655,.615,.705,.555,.635],[.605,.685,.575,.625,.545,.645,.665,.595],
[.545,.655,.585,.625,.515,.675,.615,.645],[.635,.565,.685,.605,.645,.535,.665,.575],[.575,.615,.665,.525,.635,.595,.705,.565],[.665,.585,.555,.645,.605,.695,.545,.625],[.585,.665,.555,.605,.525,.625,.645,.575],
[.535,.645,.575,.615,.505,.665,.605,.635],[.625,.555,.675,.595,.635,.525,.655,.565],[.565,.605,.655,.515,.625,.585,.695,.555],[.645,.565,.535,.625,.585,.675,.525,.605],[.575,.655,.545,.595,.515,.615,.635,.565],
[.525,.635,.565,.605,.495,.655,.595,.625],[.615,.545,.665,.585,.625,.515,.645,.555],[.555,.595,.645,.505,.615,.575,.685,.545],[.645,.565,.535,.625,.585,.675,.525,.605],[.585,.665,.555,.605,.525,.625,.645,.575],
[.535,.645,.575,.615,.505,.665,.605,.635],[.625,.555,.675,.595,.635,.525,.655,.565],[.575,.615,.665,.525,.635,.595,.705,.565],[.665,.585,.555,.645,.605,.695,.545,.625],[.595,.675,.565,.615,.535,.635,.655,.585],
[.555,.665,.595,.635,.525,.685,.625,.655],[.645,.575,.695,.615,.655,.545,.675,.585],[.585,.625,.675,.535,.645,.605,.715,.575],[.675,.595,.565,.655,.615,.705,.555,.635],[.615,.695,.585,.635,.555,.655,.675,.605],
[.565,.675,.605,.645,.535,.695,.635,.665],[.655,.585,.705,.625,.665,.555,.685,.595],[.595,.635,.685,.545,.655,.615,.725,.585],[.685,.605,.575,.665,.625,.715,.565,.645],[.615,.695,.585,.635,.555,.655,.675,.605],
[.565,.675,.605,.645,.535,.695,.635,.665],[.665,.595,.715,.635,.675,.565,.695,.605],[.605,.645,.695,.555,.665,.625,.735,.595],[.695,.615,.585,.675,.635,.725,.575,.655],[.625,.705,.595,.645,.565,.665,.685,.615],
[.575,.685,.615,.655,.545,.705,.645,.675],[.665,.595,.715,.635,.675,.565,.695,.605],[.615,.655,.705,.565,.675,.635,.745,.605],[.705,.625,.595,.685,.645,.735,.585,.665],[.635,.715,.605,.655,.575,.675,.695,.625],
[.585,.695,.625,.665,.555,.715,.655,.685],[.685,.615,.735,.655,.695,.585,.715,.625],[.625,.665,.715,.575,.685,.645,.755,.615],[.715,.635,.605,.695,.655,.745,.595,.675],[.645,.725,.615,.665,.585,.685,.705,.635],
[.595,.705,.635,.675,.565,.725,.665,.695],[.685,.615,.735,.655,.695,.585,.715,.625],[.625,.665,.715,.575,.685,.645,.755,.615],[.715,.635,.605,.695,.655,.745,.595,.675],[.645,.725,.615,.665,.585,.685,.705,.635],
[.595,.705,.635,.675,.565,.725,.665,.695],[.685,.615,.735,.655,.695,.585,.715,.625],[.625,.665,.715,.575,.685,.645,.755,.615]
];

// ---------- Substrato 4 (t, Abs) : readings per 5-unit window ----------
const s4_t = [160,165,170,175,180,185,190,195,200,205,210,215,220,225,230,235,240,245,250,255,260,265,270,275,280,285,290,295,300,305,310,315,320,325,330,335,340,345,350,355,360,365,370,375,380,385,390,395,400,405,410,415,420,425,430,435,440,445,450,455,460,465,470,475,480,485,490,495,500,505,510,515,520,525,530,535,540,545,550,555,560,565,570,575,580,585,590,595,600,605,610,615,620,625,630,635,640,645,650,655,660,665,670,675,680,685,690,695,700,705,710,715,720,725,730,735,740,745,750,755,760,765,770,775,780,785,790,795,800,805,810,815,820,825,830];
const s4_dt = [0,1,2,3,4,2,3];
const s4_abs = [
[.41,.42,.34,.20,.17],[.07,.16,.12,.20,.10],[.16,.05,.13,.10,.17],[.11,.07,.19,.06,.13],[.02,.11,.15,.08,.14],
[.04,.13,.09,.17,.07],[.14,.03,.11,.08,.15],[.10,.06,.18,.05,.12],[.02,.11,.15,.08,.14],[.05,.14,.10,.18,.08],
[.15,.04,.12,.09,.16],[.11,.07,.19,.06,.13],[.04,.13,.17,.10,.16],[.06,.15,.11,.19,.09],[.16,.05,.13,.10,.17],
[.11,.07,.19,.06,.13],[.03,.12,.16,.09,.15],[.05,.14,.10,.18,.08],[.15,.04,.12,.09,.16],[.10,.06,.18,.05,.12],
[.01,.10,.14,.07,.13],[.02,.11,.07,.15,.05],[.12,.01,.09,.06,.13],[.07,.03,.15,.02,.09,.17],[.01,.07,.11,.04,.10],
[.01,.08,.04,.12,.02],[.09,.00,.06,.03,.10],[.05,.01,.13,.00,.07],[.00,.06,.10,.03,.09],[.00,.09,.05,.13,.03],
[.11,.00,.08,.05,.12,.15],[.08,.04,.16,.03,.10],[.00,.09,.13,.06,.12],[.03,.12,.08,.16,.06],[.13,.02,.10,.07,.14],
[.10,.06,.18,.05,.12],[.02,.11,.15,.08,.14],[.05,.14,.10,.18,.08],[.16,.05,.13,.10,.17],[.12,.08,.20,.07,.14],
[.05,.14,.18,.11,.17],[.08,.17,.13,.21,.11],[.19,.08,.16,.13,.20],[.16,.12,.24,.11,.18],[.10,.19,.23,.16,.22],
[.13,.22,.18,.26,.16],[.23,.12,.20,.17,.24],[.20,.16,.28,.15,.22],[.13,.22,.26,.19,.25],[.15,.24,.20,.28,.18],
[.25,.14,.22,.19,.26],[.20,.16,.28,.15,.22],[.11,.20,.24,.17,.23,.10],[.13,.22,.18,.26,.16,.10,.29],[.24,.13,.21,.18,.25],
[.21,.17,.29,.16,.23],[.15,.24,.28,.21,.27],[.19,.28,.24,.32,.22],[.31,.20,.28,.25,.32],[.29,.25,.37,.24,.31],
[.24,.33,.37,.30,.36],[.28,.37,.33,.41,.31],[.40,.29,.37,.34,.41,.44],[.37,.33,.43,.32,.39],[.29,.38,.42,.35,.41],
[.31,.40,.36,.42,.34],[.40,.29,.37,.34,.41],[.36,.32,.43,.31,.38],[.27,.36,.40,.33,.39,.42],[.29,.38,.34,.42,.32],
[.38,.27,.35,.32,.39],[.33,.29,.41,.28,.35],[.25,.34,.38,.31,.37,.42],[.26,.35,.31,.39,.29],[.35,.24,.32,.29,.36],
[.31,.27,.39,.26,.33],[.22,.31,.35,.28,.34],[.24,.33,.29,.37,.27],[.34,.23,.31,.28,.35],[.30,.26,.38,.25,.32],
[.22,.31,.35,.28,.34,.40],[.22,.31,.27,.35,.25],[.31,.20,.28,.25,.32],[.27,.23,.35,.22,.29],[.18,.27,.31,.24,.30],
[.20,.29,.25,.33,.23],[.29,.18,.26,.23,.30],[.24,.20,.32,.19,.26],[.15,.24,.28,.21,.27],[.15,.24,.20,.28,.18,.13],
[.24,.13,.21,.18,.25],[.19,.15,.27,.14,.21],[.11,.20,.24,.17,.23],[.12,.21,.17,.25,.15,.10],[.22,.11,.19,.16,.23],
[.18,.14,.26,.13,.20],[.11,.20,.24,.17,.23],[.13,.22,.18,.26,.16],[.24,.13,.21,.18,.25],[.21,.17,.29,.16,.23],
[.14,.23,.27,.20,.26,.33],[.17,.26,.22,.30,.20],[.27,.16,.24,.21,.28],[.24,.20,.32,.19,.26],[.17,.26,.30,.23,.29,.33],
[.19,.28,.24,.32,.22],[.28,.17,.25,.22,.29],[.23,.19,.31,.18,.25],[.14,.23,.27,.20,.26],[.15,.24,.20,.28,.18],
[.24,.13,.21,.18,.25],[.19,.15,.27,.14,.21],[.11,.20,.24,.17,.23],[.13,.22,.18,.26,.16],[.24,.13,.21,.18,.25,.33],
[.21,.17,.29,.16,.23],[.14,.23,.27,.20,.26],[.17,.26,.22,.30,.20],[.28,.17,.25,.22,.29,.13],[.25,.21,.33,.20,.27],
[.18,.27,.31,.24,.30],[.21,.30,.26,.34,.24],[.31,.20,.28,.25,.32,.38],[.28,.24,.36,.23,.30],[.20,.29,.33,.26,.32],
[.23,.32,.28,.36,.26],[.33,.22,.30,.27,.34,.36],[.29,.25,.37,.24,.31],[.20,.29,.33,.26,.32,.37],[.21,.30,.26,.34,.24],
[.29,.18,.26,.23,.30],[.23,.19,.31,.18,.25,.12],[.13,.22,.26,.19,.25,.12],[.13,.22,.18,.26,.16],[.23,.12,.20,.17,.24]
];

// ---------- build ----------
function expand(t, rows, dt, out){ out=out||{x:[],y:[]}; t.forEach((ti,i)=>{ (rows[i]||[]).forEach((v,j)=>{out.x.push(ti+dt[j]);out.y.push(v);}); }); return out; }
const W=1290,H=840;
const PX=v=>v/W, PY=v=>1-v/H;
const BLUE='#4a7ebb';
const FAM='Carlito, "Liberation Sans", Arial, sans-serif';

const d1=expand(s1_t,s1_abs_b,s1_dt_b,expand(s1_t,s1_abs,s1_dt));
const d3=expand(s3_t,s3_abs_b,s3_dt_b,expand(s3_t,s3_abs,s3_dt));
const d4=expand(s4_t,s4_abs,s4_dt);
const traces=[
 {type:'scatter',mode:'markers',x:d1.x,y:d1.y,xaxis:'x',yaxis:'y',marker:{color:BLUE,size:2.9},hoverinfo:'skip'},
 {type:'scatter',mode:'lines+markers',x:s2_t,y:s2_abs,xaxis:'x2',yaxis:'y2',line:{color:BLUE,width:3.2},marker:{color:BLUE,size:4},hoverinfo:'skip'},
 {type:'scatter',mode:'markers',x:d3.x,y:d3.y,xaxis:'x3',yaxis:'y3',marker:{color:BLUE,size:4.3},hoverinfo:'skip'},
 {type:'scatter',mode:'markers',x:d4.x,y:d4.y,xaxis:'x4',yaxis:'y4',marker:{color:BLUE,size:3.4},hoverinfo:'skip'}
];

function axis(o){
  return Object.assign({showline:true,linewidth:1,ticks:'outside',ticklen:5,tickwidth:1,showgrid:false,zeroline:false,fixedrange:true,automargin:false},o);
}
const f1={family:FAM,size:8,color:'#595959'};
const f2={family:FAM,size:18,color:'#404040'};
const f4={family:FAM,size:15,color:'#404040'};

const layout={
 width:W,height:H,margin:{l:0,r:0,t:0,b:0},showlegend:false,
 paper_bgcolor:'#fff',plot_bgcolor:'rgba(0,0,0,0)',separators:',.',
 xaxis:axis({anchor:'y',domain:[PX(67),PX(555)],range:[0,10000],dtick:1000,tickformat:'d',linecolor:'#bfbfbf',tickcolor:'#bfbfbf',ticklen:4,tickfont:f1}),
 yaxis:axis({anchor:'x',domain:[PY(360),PY(21)],range:[0,1.4],dtick:0.2,tickformat:'.3f',linecolor:'#bfbfbf',tickcolor:'#bfbfbf',ticklen:4,tickfont:f1}),
 xaxis2:axis({anchor:'y2',domain:[PX(738),PX(1254)],range:[500,1100],dtick:100,tickformat:'d',linecolor:'#868686',tickcolor:'#868686',tickfont:f2,ticklabelstandoff:4}),
 yaxis2:axis({anchor:'x2',domain:[PY(314),PY(41)],range:[0,1],dtick:0.1,tickformat:'.3f',linecolor:'#868686',tickcolor:'#868686',tickfont:f2,ticklabelstandoff:8}),
 xaxis3:axis({anchor:'y3',domain:[PX(105),PX(567)],range:[0,10000],dtick:2000,tickformat:'d',linecolor:'#868686',tickcolor:'#868686',ticklen:4,tickfont:f2}),
 yaxis3:axis({anchor:'x3',domain:[PY(760),PY(456)],range:[0,1],dtick:0.1,tickformat:'.3f',linecolor:'#868686',tickcolor:'#868686',ticklen:6,tickfont:f2,ticklabelstandoff:6}),
 xaxis4:axis({anchor:'y4',domain:[PX(699),PX(1230)],range:[0,1000],dtick:200,tickformat:'d',linecolor:'#a6a6a6',tickcolor:'#a6a6a6',tickfont:f4}),
 yaxis4:axis({anchor:'x4',domain:[PY(762),PY(463)],range:[0,1],dtick:0.1,tickformat:'.3f',linecolor:'#a6a6a6',tickcolor:'#a6a6a6',ticklen:7,tickfont:f4,ticklabelstandoff:6,showgrid:true,gridcolor:'#c4c4c4',gridwidth:1}),
 shapes:[
  {type:'rect',xref:'paper',yref:'paper',x0:PX(13),x1:PX(578),y0:PY(402),y1:PY(10),line:{color:'#a6a6a6',width:1},layer:'below'},
  {type:'rect',xref:'paper',yref:'paper',x0:PX(628),x1:PX(1289),y0:PY(402),y1:PY(17),line:{color:'#8c8c8c',width:1.5},layer:'below'},
  {type:'rect',xref:'paper',yref:'paper',x0:PX(5),x1:PX(598),y0:PY(842),y1:PY(434),line:{color:'#8c8c8c',width:1.5},layer:'below'},
  {type:'rect',xref:'paper',yref:'paper',x0:PX(628),x1:PX(1283),y0:PY(838),y1:PY(428),line:{color:'#8c8c8c',width:1.5},layer:'below'}
 ],
 annotations:[]
};
const titleFont={family:'"Liberation Sans", Arial, sans-serif',size:23,color:'#000'};
function ann(text,x,y,font,angle){ layout.annotations.push({text:text,xref:'paper',yref:'paper',x:PX(x),y:PY(y),xanchor:'center',yanchor:'middle',showarrow:false,font:font,textangle:angle||0}); }
ann('<b>Substrato 1</b>',163,38,titleFont);
ann('<b>Substrato 2</b>',832,47,titleFont);
ann('<b>Substrato 3</b>',193,456,titleFont);
ann('<b>Substrato 4</b>',804,454,titleFont);
ann('Abs',32,190,{family:FAM,size:8,color:'#595959'},-90);
ann('tiempo',311,387,{family:FAM,size:8,color:'#595959'});
ann('Abs',664,167,{family:FAM,size:18,color:'#404040'},-90);
ann('t',995,366,{family:FAM,size:18,color:'#404040'});
ann('Abs',38,607,{family:FAM,size:18,color:'#404040'},-90);
ann('t',332,812,{family:FAM,size:18,color:'#404040'});
ann('Abs',643,612,{family:FAM,size:13,color:'#404040'},-90);
ann('t',963,802,{family:FAM,size:14,color:'#404040'});

Plotly.newPlot('chart',traces,layout,{staticPlot:true,displayModeBar:false});
</script></body></html>
